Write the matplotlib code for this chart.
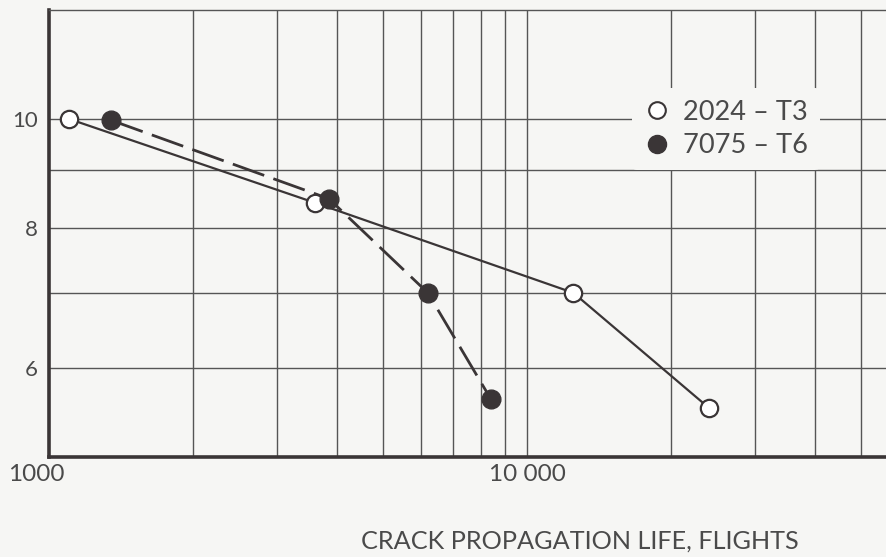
import matplotlib
matplotlib.use("Agg")
import matplotlib.pyplot as plt
import matplotlib.transforms as mtransforms
from matplotlib.lines import Line2D

# ---- data ----
t3_life = [1100, 3600, 12500, 24000]
t3_stress = [10.0, 8.42, 7.0, 5.53]
t6_life = [1350, 3850, 6200, 8400]
t6_stress = [9.97, 8.49, 7.0, 5.63]
series_labels = ["2024 – T3", "7075 – T6"]
x_label = "CRACK PROPAGATION LIFE, FLIGHTS"
x_grid = [2000, 3000, 4000, 5000, 6000, 7000, 8000, 9000, 10000,
          20000, 30000, 40000, 50000]
x_labels = {1000: "1000", 10000: "10 000"}
y_grid = [6, 7, 8, 9, 10]
y_labels = {6: "6", 8: "8", 10: "10"}

BG = "#f6f6f4"
INK = "#3a3536"
GRID = "#555555"
TXT = "#4a4a4a"

plt.rcParams["font.family"] = ["Lato", "DejaVu Sans"]

fig = plt.figure(figsize=(8.87, 5.57), dpi=100, facecolor=BG)
W, H = 887, 557
ax = fig.add_axes([49 / W, (H - 457) / H, 1 - 49 / W, (457 - 10) / H])
ax.set_facecolor(BG)
ax.set_xscale("log")
ax.set_yscale("log")
ax.set_xlim(1000, 56600)
ax.set_ylim(5.0, 12.5)

# grid lines
for xv in x_grid:
    ax.axvline(xv, color=GRID, lw=1.0, zorder=1)
for yv in y_grid:
    ax.axhline(yv, color=GRID, lw=1.0, zorder=1)

ax.plot(t3_life, t3_stress, color=INK, lw=1.6, zorder=3)
ax.plot(t6_life, t6_stress, color=INK, lw=2.0, dashes=(12, 3.5), zorder=3)
ax.plot(t3_life, t3_stress, ls="none", marker="o", ms=12.5, mfc="white",
        mec=INK, mew=1.6, zorder=4)
ax.plot(t6_life, t6_stress, ls="none", marker="o", ms=13.5, mfc=INK,
        mec=INK, mew=1.0, zorder=4)

# ticks
ax.xaxis.set_minor_locator(matplotlib.ticker.NullLocator())
ax.yaxis.set_minor_locator(matplotlib.ticker.NullLocator())
xt = sorted(x_labels.keys())
ax.set_xticks(xt)
ax.set_xticklabels([x_labels[v] for v in xt], fontsize=17.5, color=TXT)
yt = sorted(y_labels.keys())
ax.set_yticks(yt)
ax.set_yticklabels([y_labels[v] for v in yt], fontsize=16, color=TXT)
ax.tick_params(axis="both", length=0)
ax.tick_params(axis="x", pad=5)
ax.tick_params(axis="y", pad=8)
# shift the "1000" label left a bit
off = mtransforms.ScaledTranslation(-13 / 100, 0, fig.dpi_scale_trans)
ax.get_xticklabels()[0].set_transform(ax.get_xticklabels()[0].get_transform() + off)

for s in ["left", "bottom"]:
    ax.spines[s].set_color(INK)
    ax.spines[s].set_linewidth(2.6)
ax.spines["top"].set_color(GRID)
ax.spines["top"].set_linewidth(1.0)
ax.spines["right"].set_visible(False)

fig.text(580 / W, 1 - 541 / H, x_label, ha="center", va="center",
         fontsize=18.2, color=TXT)

handles = [
    Line2D([], [], ls="none", marker="o", ms=12, mfc="white", mec=INK, mew=1.5),
    Line2D([], [], ls="none", marker="o", ms=13, mfc=INK, mec=INK),
]
leg = ax.legend(handles, series_labels, loc="center",
                bbox_to_anchor=(726 / W, 1 - 129 / H),
                bbox_transform=fig.transFigure, frameon=True, fontsize=19.5,
                handletextpad=0.45, labelspacing=0.3, borderpad=0.45,
                handlelength=1.0)
leg.get_frame().set_facecolor(BG)
leg.get_frame().set_edgecolor("none")
leg.get_frame().set_alpha(1)
for t in leg.get_texts():
    t.set_color(TXT)
leg.set_zorder(5)

fig.savefig("out.png", dpi=100, facecolor=BG)
